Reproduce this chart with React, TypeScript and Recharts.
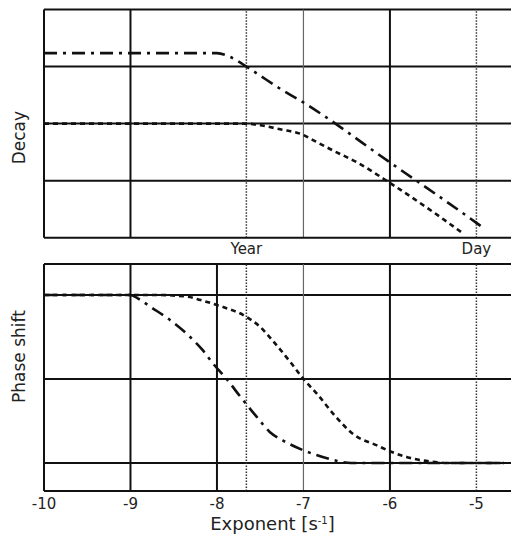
import React from 'react';
import { LineChart, Line, XAxis, YAxis, ReferenceLine, Label } from 'recharts';

const FONT = '"DejaVu Sans", sans-serif';
const INK = '#111';

const X_DOMAIN: [number, number] = [-10, -4.6];
const YEAR = -7.66;
const DAY = -5;
const exponentTicks = [-10, -9, -8, -7, -6, -5];
const markerTicks = [YEAR, DAY];
const markerNames: Record<string, string> = { [String(YEAR)]: 'Year', [String(DAY)]: 'Day' };

// Decay panel
const decayDashDot = [
  { x: -10, y: 3.235 }, { x: -8.0, y: 3.235 }, { x: -7.85, y: 3.17 }, { x: -7.66, y: 3.0 },
  { x: -7.5, y: 2.84 }, { x: -7.3, y: 2.64 }, { x: -7.0, y: 2.37 }, { x: -6.0, y: 1.32 },
  { x: -5.0, y: 0.26 }, { x: -4.9, y: 0.15 },
];
const decayDotted = [
  { x: -10, y: 2.0 }, { x: -7.66, y: 2.0 }, { x: -7.5, y: 1.97 }, { x: -7.27, y: 1.9 },
  { x: -7.0, y: 1.8 }, { x: -6.9, y: 1.72 }, { x: -6.66, y: 1.53 }, { x: -6.38, y: 1.32 },
  { x: -6.0, y: 0.96 }, { x: -5.5, y: 0.45 }, { x: -5.15, y: 0.07 },
];

// Phase shift panel
const phaseDotted = [
  { x: -10, y: 2.0 }, { x: -8.7, y: 2.0 }, { x: -8.34, y: 1.98 }, { x: -8.19, y: 1.94 },
  { x: -8.0, y: 1.88 }, { x: -7.66, y: 1.74 }, { x: -7.5, y: 1.62 }, { x: -7.35, y: 1.45 },
  { x: -7.15, y: 1.2 }, { x: -7.0, y: 1.0 }, { x: -6.84, y: 0.82 }, { x: -6.65, y: 0.58 },
  { x: -6.42, y: 0.34 }, { x: -6.15, y: 0.21 }, { x: -6.0, y: 0.14 }, { x: -5.8, y: 0.07 },
  { x: -5.55, y: 0.02 }, { x: -5.3, y: 0.0 }, { x: -4.68, y: 0.0 },
];
const phaseDashDot = [
  { x: -10, y: 2.0 }, { x: -9.0, y: 2.0 }, { x: -8.9, y: 1.95 }, { x: -8.77, y: 1.86 },
  { x: -8.54, y: 1.7 }, { x: -8.31, y: 1.5 }, { x: -8.17, y: 1.35 }, { x: -8.05, y: 1.19 },
  { x: -7.88, y: 0.99 }, { x: -7.73, y: 0.79 }, { x: -7.54, y: 0.55 }, { x: -7.39, y: 0.37 },
  { x: -7.24, y: 0.27 }, { x: -7.01, y: 0.155 }, { x: -6.85, y: 0.095 }, { x: -6.65, y: 0.035 },
  { x: -6.45, y: 0.0 }, { x: -4.68, y: 0.0 },
];

const DASH_DOT = '13 6 3 6';
const DOTTED = '5 4';

const solid = { stroke: INK, strokeWidth: 2 };
const thin = { stroke: '#666', strokeWidth: 1.2 };
const dotted = { stroke: '#333', strokeWidth: 1.5, strokeDasharray: '1.5 1.5' };

const sideLabel = (text: string, shift: number) => (props: any) => {
  const vb = props.viewBox || { x: 0, y: 0, width: 0, height: 0 };
  const cx = vb.x + 25;
  const cy = vb.y + vb.height / 2 + shift;
  return (
    <text x={cx} y={cy} transform={`rotate(-90 ${cx} ${cy})`} textAnchor="middle"
      fontFamily={FONT} fontSize={17} fill="#222">{text}</text>
  );
};

const ExponentLabel = (props: any) => {
  const vb = props.viewBox || { x: 0, y: 0, width: 0, height: 0 };
  const cx = vb.x + vb.width / 2 - 5;
  return (
    <text x={cx} y={vb.y + 39} textAnchor="middle" fontFamily={FONT} fontSize={18} fill="#222">
      Exponent [s<tspan fontSize={10} dy={-6}>-1</tspan><tspan dy={6}>]</tspan>
    </text>
  );
};

export default function App() {
  return (
    <div style={{ position: 'absolute', left: 0, top: 0, width: 511, height: 538, background: '#fff' }}>
      <div style={{ position: 'absolute', left: 0, top: 0 }}>
        <LineChart width={511} height={262} margin={{ top: 9.5, right: 0, bottom: 0, left: 0 }}>
          <XAxis dataKey="x" type="number" domain={X_DOMAIN} allowDataOverflow ticks={markerTicks}
            tickFormatter={(v: number) => markerNames[String(v)] ?? ''} height={24.3}
            tickLine={false} tickSize={0} tickMargin={6}
            axisLine={{ stroke: INK, strokeWidth: 2 }}
            tick={{ fontFamily: FONT, fontSize: 15, fill: '#222' }} />
          <YAxis type="number" domain={[0, 4]} width={44} tick={false} tickLine={false}
            axisLine={{ stroke: INK, strokeWidth: 2 }}>
            <Label content={sideLabel('Decay', 14)} />
          </YAxis>
          <ReferenceLine y={4} {...solid} />
          <ReferenceLine y={3} {...solid} />
          <ReferenceLine y={2} {...solid} />
          <ReferenceLine y={1} {...solid} />
          <ReferenceLine x={-9} {...solid} />
          <ReferenceLine x={-7} {...thin} />
          <ReferenceLine x={-6} {...solid} />
          <ReferenceLine x={YEAR} {...dotted} />
          <ReferenceLine x={DAY} {...dotted} />
          <Line data={decayDashDot} dataKey="y" type="monotone" stroke={INK} strokeWidth={2.6}
            strokeDasharray={DASH_DOT} dot={false} isAnimationActive={false} />
          <Line data={decayDotted} dataKey="y" type="monotone" stroke={INK} strokeWidth={2.6}
            strokeDasharray={DOTTED} dot={false} isAnimationActive={false} />
        </LineChart>
      </div>
      <div style={{ position: 'absolute', left: 0, top: 262 }}>
        <LineChart width={511} height={276} margin={{ top: 2, right: 0, bottom: 0, left: 0 }}>
          <XAxis dataKey="x" type="number" domain={X_DOMAIN} allowDataOverflow ticks={exponentTicks}
            height={47} tickLine={false} tickSize={0} tickMargin={7}
            axisLine={{ stroke: INK, strokeWidth: 2 }}
            tick={{ fontFamily: FONT, fontSize: 15, fill: '#222' }}>
            <Label content={ExponentLabel} />
          </XAxis>
          <YAxis type="number" domain={[-0.333, 2.369]} allowDataOverflow width={44} tick={false} tickLine={false}
            axisLine={{ stroke: INK, strokeWidth: 2 }}>
            <Label content={sideLabel('Phase shift', -21)} />
          </YAxis>
          <ReferenceLine y={2.369} {...solid} />
          <ReferenceLine y={2} {...solid} />
          <ReferenceLine y={1} {...solid} />
          <ReferenceLine y={0} {...solid} />
          <ReferenceLine x={-9} {...solid} />
          <ReferenceLine x={-8} {...solid} />
          <ReferenceLine x={-7} {...thin} />
          <ReferenceLine x={-6} {...solid} />
          <ReferenceLine x={YEAR} {...dotted} />
          <ReferenceLine x={DAY} {...dotted} />
          <Line data={phaseDotted} dataKey="y" type="monotone" stroke={INK} strokeWidth={2.6}
            strokeDasharray={DOTTED} dot={false} isAnimationActive={false} />
          <Line data={phaseDashDot} dataKey="y" type="monotone" stroke={INK} strokeWidth={2.6}
            strokeDasharray={DASH_DOT} dot={false} isAnimationActive={false} />
        </LineChart>
      </div>
    </div>
  );
}
